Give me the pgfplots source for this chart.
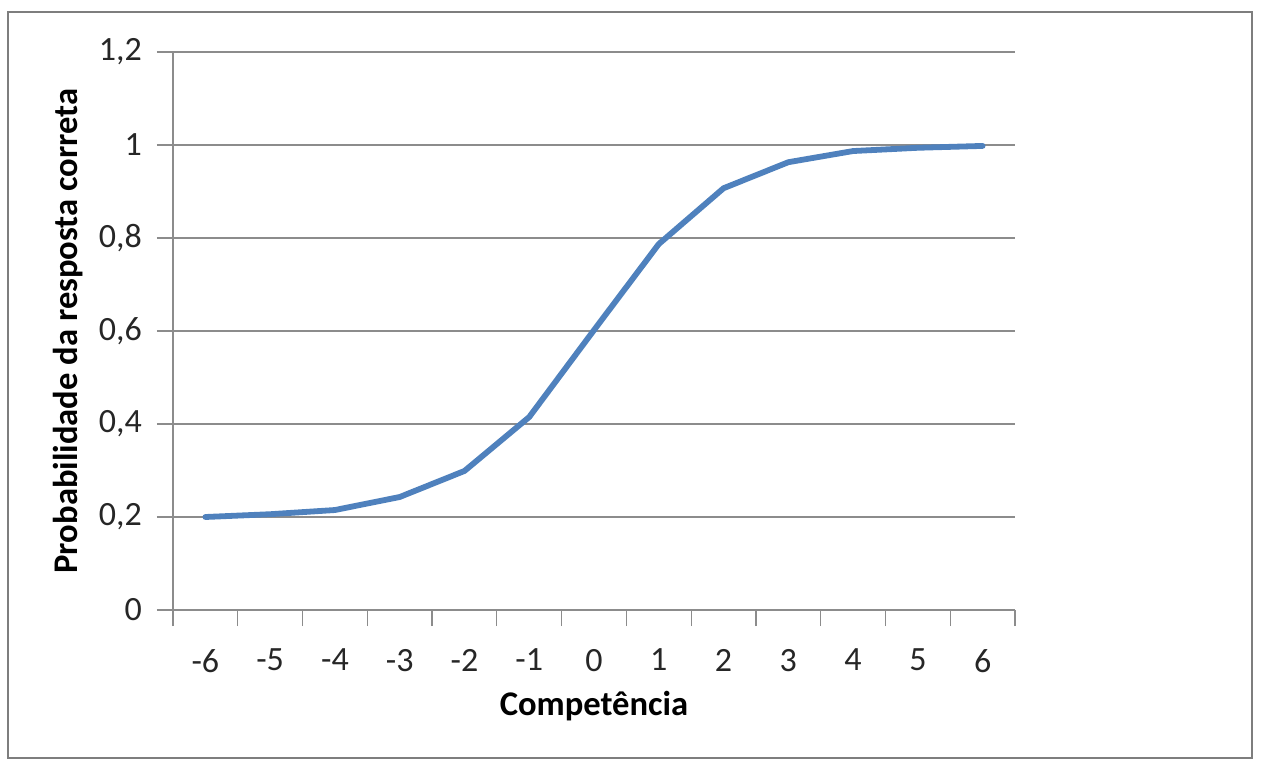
\documentclass[border=0pt]{standalone}
\usepackage{fontspec}
\setmainfont{Carlito}
\usepackage{pgfplots}
\pgfplotsset{compat=1.18}
\definecolor{xlblue}{HTML}{4F81BD}
\definecolor{xlgrid}{HTML}{8C8C8C}
\begin{document}
\begin{tikzpicture}[x=1pt,y=1pt]
\useasboundingbox (-86.5,-83) rectangle (545.5,305);
\draw[xlgrid!90!black, line width=1.2pt] (-82.5,-74) rectangle (539.5,299);
\begin{axis}[
at={(0,0)}, anchor=south west,
scale only axis,
width=421pt, height=279pt,
xmin=-6.5, xmax=6.5,
ymin=0, ymax=1.2,
axis x line*=bottom, axis y line*=left,
axis line style={-, xlgrid, line width=0.6pt},
xtick={-6,...,6},
minor xtick={-6.5,-5.5,...,6.5},
major x tick style={draw=none},
minor x tick style={xlgrid, line width=0.6pt},
minor tick length=8pt,
ytick={0,0.2,...,1.2},
major y tick style={xlgrid, line width=0.6pt},
major tick length=8pt,
tick align=outside,
ymajorgrids,
grid style={xlgrid, line width=0.6pt},
/pgf/number format/assume math mode=true,
/pgf/number format/use comma,
/pgf/number format/fixed,
/pgf/number format/precision=1,
tick label style={font=\fontsize{17}{20}\selectfont, text=black!85},
xticklabel style={yshift=-8pt},
yticklabel style={xshift=-4pt},
xlabel={\textbf{Competência}},
ylabel={\textbf{Probabilidade da resposta correta}},
label style={font=\fontsize{17.3}{20}\selectfont},
xlabel style={at={(axis description cs:0.5,0)}, yshift=-48pt, anchor=center},
ylabel style={at={(axis description cs:0,0.5)}, yshift=52.5pt, anchor=center},
clip=false,
]
\addplot[xlblue, line width=2.9pt, line join=round, line cap=round] coordinates {
(-6,0.200) (-5,0.206) (-4,0.215) (-3,0.243) (-2,0.299) (-1,0.415)
(0,0.602) (1,0.787) (2,0.907) (3,0.963) (4,0.987) (5,0.994) (6,0.998)
};
\end{axis}
\end{tikzpicture}
\end{document}
